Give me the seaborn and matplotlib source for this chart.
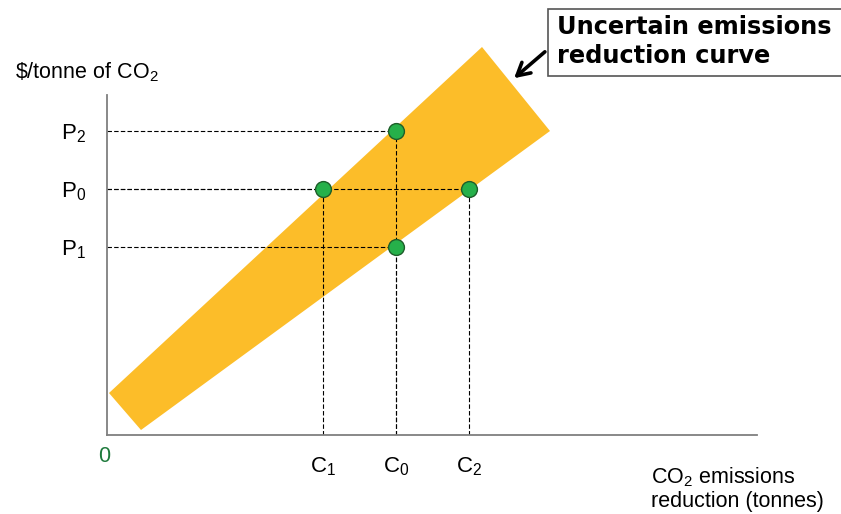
import matplotlib
matplotlib.use("Agg")
import matplotlib.pyplot as plt
from matplotlib.patches import Polygon, Rectangle, FancyArrowPatch
import seaborn as sns
import pandas as pd

# Quantities (C) and prices (P) where the band is evaluated
quantity_labels = ["C1", "C0", "C2"]
quantity_values = [216, 289, 362]
price_labels = ["P2", "P0", "P1"]
price_values = [304, 246, 188]

# Points on the band: (quantity, price)
point_x = [216, 289, 362, 289]
point_y = [246, 304, 246, 188]

# Corners of the uncertain reduction-curve band
band_x = [2, 34, 443, 375]
band_y = [42, 5, 304, 388]

sns.set_theme(style="white")
plt.rcParams["font.family"] = ["Liberation Sans", "DejaVu Sans"]
plt.rcParams["mathtext.fontset"] = "custom"
plt.rcParams["mathtext.rm"] = "Liberation Sans"
plt.rcParams["mathtext.it"] = "Liberation Sans:italic"
plt.rcParams["text.color"] = "black"

fig = plt.figure(figsize=(8.41, 5.14), dpi=100)
ax = fig.add_axes([107 / 841, 79 / 514, 650 / 841, 340 / 514])
ax.set_xlim(0, 650)
ax.set_ylim(0, 340)

# Band
band = Polygon(list(zip(band_x, band_y)), closed=True, facecolor="#FCBD29",
               edgecolor="none", clip_on=False, zorder=1)
ax.add_patch(band)

# Dashed guide lines from the axes to each point
for x, y in zip(point_x, point_y):
    ax.plot([0, x], [y, y], ls=(0, (4, 2)), color="black", lw=0.8, zorder=2)
    ax.plot([x, x], [0, y], ls=(0, (4, 2)), color="black", lw=0.8, zorder=2)

pts = pd.DataFrame({"q": point_x, "p": point_y})
sns.scatterplot(data=pts, x="q", y="p", s=130, color="#26B04A",
                edgecolor="#1E5E2A", linewidth=1.0, zorder=4, ax=ax,
                clip_on=False)

# Axes styling
for side in ["top", "right"]:
    ax.spines[side].set_visible(False)
for side in ["left", "bottom"]:
    ax.spines[side].set_color("#7F7F7F")
    ax.spines[side].set_linewidth(1.3)

ax.set_xticks(quantity_values)
ax.set_xticklabels([r"$\mathregular{%s_%s}$" % (l[0], l[1:]) for l in quantity_labels],
                   fontsize=16)
ax.set_yticks(price_values)
ax.set_yticklabels([r"$\mathregular{%s_%s}$" % (l[0], l[1:]) for l in price_labels],
                   fontsize=16)
ax.tick_params(axis="x", direction="in", length=5, width=1, color="#7F7F7F",
               pad=15, labelcolor="black")
ax.tick_params(axis="y", length=0, pad=15, labelcolor="black")
ax.set_xlabel("")
ax.set_ylabel("")

# Origin label
fig.text(104 / 841, 1 - 456 / 514, "0", color="#1E7A3C", fontsize=15.5,
         ha="center", va="center")

# Axis titles
fig.text(15 / 841, 1 - 72 / 514, r"\$/tonne of CO$\mathregular{_2}$", fontsize=15.5,
         ha="left", va="center")
fig.text(651 / 841, 1 - 477 / 514, r"CO$\mathregular{_2}$ emissions", fontsize=15.5,
         ha="left", va="center")
fig.text(651 / 841, 1 - 501 / 514, "reduction (tonnes)", fontsize=15.5,
         ha="left", va="center")

# Callout box with arrow
fig.patches.append(Rectangle((548 / 841, 1 - 76 / 514), 300 / 841, 67 / 514,
                             transform=fig.transFigure, facecolor="white",
                             edgecolor="#555555", lw=1.2))
fig.text(557 / 841, 1 - 27 / 514, "Uncertain emissions", fontsize=17.3,
         fontweight="bold", family="DejaVu Sans", ha="left", va="center")
fig.text(557 / 841, 1 - 56 / 514, "reduction curve", fontsize=17.3,
         fontweight="bold", family="DejaVu Sans", ha="left", va="center")
fig.add_artist(FancyArrowPatch(
    (547 / 841, 1 - 50 / 514), (512 / 841, 1 - 80 / 514),
    transform=fig.transFigure, arrowstyle="->,head_length=9,head_width=5",
    color="black", lw=2.6, mutation_scale=1))

fig.savefig("out.png", dpi=100)
